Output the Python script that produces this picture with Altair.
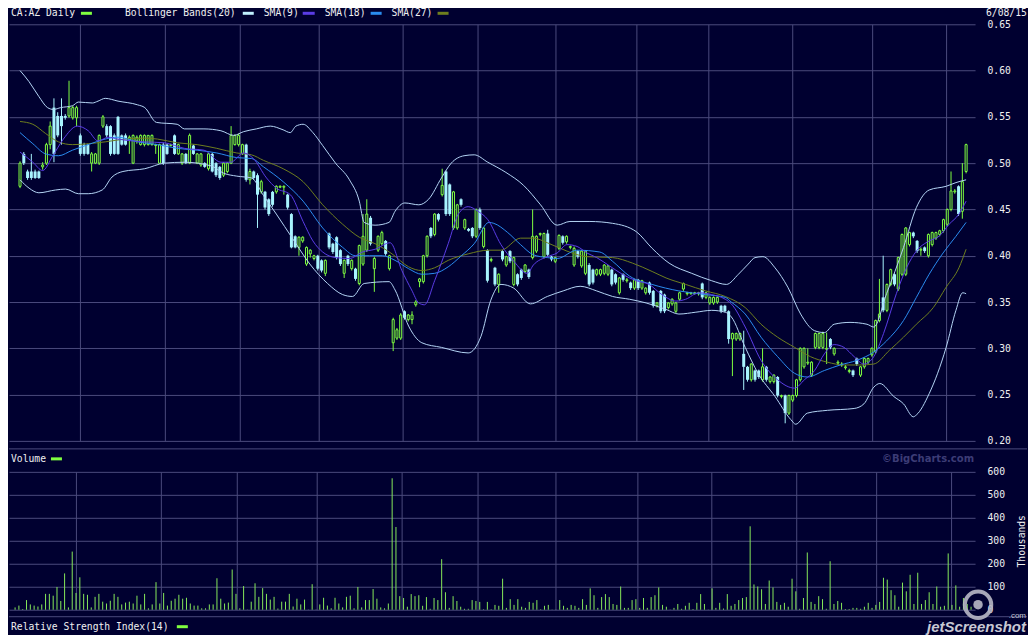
import altair as alt
import pandas as pd

# ---------------- data ----------------
OPEN = [
    .475, .510, .491, .491, .491, .491, .496, .500, .520, .560,
    .551, .551, .551, .551, .549, .549, .530, .520, .520, .500,
    .500, .500, .540, .540, .540, .530, .550, .530, .530, .525,
    .500, .524, .520, .520, .520, .520, .519, .500, .520, .520,
    .519, .530, .510, .500, .510, .500, .519, .500, .498, .500,
    .494, .510, .500, .496, .487, .491, .500, .520, .520, .510,
    .520, .482, .491, .487, .469, .469, .461, .469, .469, .474,
    .474, .466, .445, .421, .409, .416, .391, .402, .397, .400,
    .395, .381, .424, .413, .420, .406, .381, .400, .386, .386,
    .370, .391, .406, .441, .386, .406, .413, .416, .386, .306,
    .311, .311, .340, .331, .331, .347, .372, .372, .400, .430,
    .423, .445, .466, .491, .477, .430, .430, .461, .430, .429,
    .430, .421, .450, .410, .406, .395, .387, .369, .405, .390,
    .405, .369, .380, .385, .383, .385, .398, .405, .423, .399,
    .424, .399, .394, .408, .421, .415, .409, .390, .405, .389,
    .381, .390, .385, .380, .380, .381, .380, .385, .380, .360,
    .380, .373, .371, .365, .374, .365, .360, .371, .362, .346,
    .362, .358, .344, .348, .340, .353, .364, .359, .359, .359,
    .359, .370, .355, .349, .349, .350, .346, .346, .340, .310,
    .310, .310, .294, .280, .266, .276, .276, .266, .280, .264,
    .264, .269, .248, .249, .230, .244, .249, .266, .280, .284,
    .271, .301, .301, .301, .299, .310, .294, .284, .282, .279,
    .275, .276, .289, .271, .280, .285, .293, .296, .330, .355,
    .341, .369, .380, .364, .380, .380, .412, .425, .416, .406,
    .409, .400, .412, .419, .423, .427, .434, .450, .469, .475,
    .448, .491,
]
HIGH = [
    .502, .512, .493, .510, .493, .492, .501, .522, .545, .570,
    .555, .570, .553, .589, .562, .562, .532, .522, .521, .512,
    .511, .531, .552, .542, .541, .532, .551, .531, .532, .530,
    .531, .530, .531, .531, .530, .531, .521, .521, .522, .521,
    .521, .531, .521, .511, .511, .532, .520, .511, .511, .501,
    .511, .511, .501, .497, .501, .501, .540, .531, .532, .521,
    .521, .494, .492, .489, .482, .470, .462, .470, .476, .476,
    .476, .467, .446, .422, .421, .421, .410, .407, .401, .401,
    .396, .396, .425, .414, .421, .407, .396, .401, .396, .387,
    .412, .445, .461, .443, .399, .422, .427, .417, .401, .333,
    .322, .338, .341, .337, .340, .352, .376, .401, .422, .431,
    .446, .446, .494, .492, .478, .470, .456, .462, .440, .430,
    .431, .451, .452, .431, .407, .398, .388, .381, .406, .400,
    .406, .399, .381, .386, .391, .386, .450, .422, .425, .425,
    .428, .400, .399, .423, .422, .422, .411, .410, .406, .406,
    .406, .392, .386, .386, .386, .391, .390, .386, .381, .377,
    .381, .376, .372, .375, .375, .374, .366, .372, .363, .350,
    .363, .359, .350, .354, .350, .361, .371, .361, .361, .361,
    .361, .371, .361, .356, .356, .356, .347, .347, .341, .317,
    .317, .317, .319, .281, .284, .277, .277, .300, .281, .270,
    .272, .270, .250, .250, .250, .250, .267, .301, .301, .300,
    .286, .317, .317, .318, .317, .311, .301, .287, .285, .282,
    .278, .277, .290, .281, .290, .290, .301, .331, .375, .400,
    .370, .386, .381, .399, .424, .431, .426, .426, .417, .409,
    .410, .424, .426, .426, .428, .440, .451, .491, .472, .476,
    .500, .521,
]
LOW = [
    .473, .498, .482, .482, .483, .483, .493, .498, .515, .501,
    .528, .520, .547, .549, .547, .540, .508, .508, .509, .491,
    .499, .498, .538, .528, .508, .509, .509, .519, .519, .510,
    .499, .521, .519, .518, .519, .519, .510, .499, .498, .509,
    .518, .509, .509, .498, .499, .499, .509, .499, .496, .495,
    .492, .490, .485, .482, .485, .489, .499, .519, .518, .509,
    .480, .477, .482, .430, .467, .450, .443, .453, .467, .473,
    .466, .450, .408, .408, .400, .414, .389, .398, .395, .384,
    .382, .378, .407, .402, .396, .389, .376, .389, .384, .373,
    .368, .389, .404, .411, .361, .404, .411, .400, .384, .297,
    .309, .309, .331, .329, .326, .345, .366, .370, .398, .419,
    .421, .437, .464, .443, .443, .428, .428, .453, .428, .426,
    .419, .419, .428, .408, .371, .393, .367, .360, .394, .388,
    .392, .367, .367, .374, .381, .375, .396, .403, .421, .397,
    .399, .394, .392, .406, .412, .413, .407, .388, .397, .387,
    .379, .367, .369, .378, .378, .379, .378, .367, .369, .358,
    .372, .371, .363, .363, .363, .363, .358, .358, .344, .344,
    .338, .338, .342, .346, .338, .351, .362, .357, .358, .358,
    .357, .353, .353, .347, .347, .348, .338, .339, .305, .270,
    .308, .308, .255, .264, .264, .264, .267, .264, .264, .262,
    .262, .247, .246, .219, .228, .242, .247, .264, .278, .282,
    .269, .299, .299, .299, .283, .299, .292, .282, .280, .277,
    .273, .269, .281, .269, .278, .283, .291, .294, .328, .339,
    .339, .367, .367, .362, .378, .378, .410, .419, .403, .400,
    .403, .398, .410, .417, .421, .425, .432, .448, .467, .443,
    .440, .489,
]
CLOSE = [
    .500, .500, .484, .484, .484, .484, .498, .520, .540, .510,
    .530, .540, .549, .560, .560, .560, .510, .510, .510, .510,
    .510, .530, .550, .530, .510, .510, .510, .520, .520, .528,
    .530, .528, .530, .530, .530, .530, .520, .520, .500, .510,
    .520, .510, .520, .510, .500, .530, .510, .510, .510, .496,
    .510, .491, .487, .484, .500, .500, .530, .530, .530, .520,
    .482, .491, .484, .466, .480, .452, .445, .455, .475, .475,
    .475, .452, .409, .409, .420, .420, .409, .406, .400, .386,
    .384, .395, .409, .404, .398, .391, .395, .391, .395, .375,
    .411, .421, .445, .413, .397, .421, .425, .402, .400, .331,
    .320, .336, .333, .336, .336, .350, .375, .400, .421, .421,
    .445, .439, .476, .445, .445, .469, .455, .455, .439, .427,
    .421, .450, .430, .430, .373, .396, .369, .380, .396, .399,
    .394, .398, .369, .376, .390, .377, .421, .421, .424, .424,
    .401, .396, .398, .422, .414, .421, .410, .408, .399, .405,
    .405, .369, .371, .385, .385, .390, .389, .369, .371, .376,
    .374, .374, .365, .374, .365, .373, .365, .360, .346, .349,
    .340, .340, .349, .353, .349, .360, .370, .360, .360, .360,
    .360, .355, .360, .355, .355, .355, .340, .340, .310, .316,
    .316, .316, .280, .266, .283, .266, .269, .280, .266, .269,
    .271, .249, .249, .230, .249, .249, .266, .300, .300, .285,
    .285, .316, .316, .316, .300, .301, .300, .285, .283, .280,
    .276, .271, .283, .280, .289, .289, .300, .330, .337, .341,
    .369, .385, .369, .398, .423, .430, .425, .421, .405, .407,
    .405, .423, .425, .425, .427, .439, .450, .470, .470, .445,
    .480, .520,
]
# volume, thousands of shares
VOLUME = [
    10, 18, 3, 42, 23, 18, 14, 23, 69, 69,
    61, 99, 38, 158, 10, 253, 73, 141, 69, 65,
    10, 56, 69, 35, 27, 39, 69, 56, 23, 31,
    35, 27, 61, 23, 69, 6, 23, 120, 27, 73,
    18, 39, 48, 65, 48, 52, 27, 18, 18, 6,
    6, 23, 23, 137, 48, 27, 31, 175, 69, 6,
    103, 1, 35, 115, 56, 94, 69, 44, 56, 5,
    35, 35, 69, 14, 48, 23, 44, 1, 111, 1,
    23, 52, 18, 6, 52, 27, 10, 56, 61, 6,
    99, 10, 42, 42, 90, 48, 10, 6, 27, 572,
    360,
    59, 51, 13, 68, 59, 63, 17, 55, 4, 51,
    42, 220, 76, 8, 59, 38, 13, 4, 4, 42,
    38, 34, 2, 34, 2, 21, 17, 135, 8, 46,
    21, 46, 13, 8, 34, 30, 42, 2, 17, 21,
    1, 1, 42, 17, 8, 21, 17, 8, 46, 21,
    93, 63, 8, 55, 68, 55, 25, 21, 101, 8,
    8, 42, 46, 8, 51, 8, 55, 63, 97, 21,
    13, 1, 8, 25, 4, 17, 30, 3, 30, 68,
    25, 1, 93,
    8, 30, 5, 68, 17, 25, 42, 51, 55, 363,
    110, 101, 89, 25, 127, 97, 34, 21, 30, 13,
    135, 80, 4, 51, 249, 34, 25, 59, 46, 4,
    211, 25, 38, 30, 3, 3, 8, 8, 4, 13,
    30, 8, 21, 34, 139, 131, 85, 63, 13, 118,
    80, 152, 25, 161, 25, 42, 76, 25, 101, 13,
    17, 245, 21, 106, 13, 51, 25, 13,
]
# (trading-day index, value) pairs
UPPER_BAND = [(0, .600), (2.4, .588), (5, .572), (7.3, .560), (8.9, .558), (10.8, .560), (13.9, .562),
              (15.5, .566), (19.2, .565), (20.7, .567), (22.6, .570), (26, .567), (31.2, .563), (33.1, .560),
              (36.2, .544), (41.7, .542), (43.6, .537), (48.8, .537), (53.3, .535), (56.7, .530), (59.3, .534),
              (62.7, .537), (66.4, .540), (69.8, .536), (71.7, .533), (73.2, .540), (75.1, .542), (77.7, .533),
              (80.3, .519), (83.7, .500), (87.4, .482), (90, .459), (91.3, .436), (94.2, .433), (97.9, .436),
              (99.5, .448), (102.1, .457), (105.8, .455), (108.4, .461), (111.8, .484), (114.4, .500),
              (117.8, .508), (120.5, .509), (124.1, .501), (128.9, .490), (133.6, .476), (138.1, .455),
              (142.5, .433), (145.9, .437), (151.2, .437), (157.2, .435), (163.5, .426), (167.7, .408),
              (172.2, .392), (178.2, .381), (183.5, .373), (187.4, .369), (190.6, .380), (193.2, .391),
              (195, .398), (197.1, .399), (200.3, .387), (203.7, .366), (207.1, .337), (210.8, .319),
              (213.4, .317), (216, .326), (220.2, .328), (224.7, .326), (226.5, .323), (229.9, .359),
              (234.4, .409), (237.8, .452), (241.2, .471), (245.7, .475), (248.3, .479), (251, .482)]
LOWER_BAND = [(0, .482), (2.4, .473), (5, .468), (9.4, .471), (12.1, .472), (15.5, .467), (18.1, .467),
              (21.8, .471), (24.4, .485), (27.3, .491), (33.1, .494), (38.3, .500), (43.6, .501), (50.7, .497),
              (54.1, .489), (57.5, .486), (61.4, .484), (64.6, .465), (68, .445), (72.4, .418), (76.9, .391),
              (81.6, .370), (85.6, .358), (88.2, .356), (91.3, .370), (97.9, .372), (99.5, .363), (103.1, .324),
              (106.6, .306), (111.8, .301), (118.9, .295), (122.3, .313), (124.9, .352), (127.6, .369),
              (131, .365), (135.4, .348), (139.9, .356), (144.1, .362), (148.6, .367), (153, .362),
              (157.2, .356), (161.7, .353), (166.1, .349), (171.4, .342), (174.8, .337), (179.3, .339),
              (183.5, .341), (187.1, .339), (188.7, .334), (192.4, .301), (195.8, .273), (200.3, .248),
              (204.5, .223), (205.8, .218), (208.9, .230), (214.2, .233), (221.3, .235), (223.9, .240),
              (226.5, .258), (228.1, .262), (231.8, .248), (234.4, .240), (237, .226), (237.8, .228),
              (241.2, .251), (245.7, .301), (248.3, .341), (250.1, .360), (251, .359)]
SMA9 = [(0, .512), (3.4, .501), (6, .492), (8.7, .508), (11.5, .526), (15.2, .540), (18.1, .535), (20.7, .524),
        (23.4, .528), (26, .526), (29.7, .524), (33.1, .523), (38.3, .522), (43.6, .516), (48.8, .514),
        (53.3, .501), (55.9, .501), (59.3, .511), (61.9, .505), (65.4, .484), (68, .473), (71.7, .466),
        (75.1, .437), (77.7, .416), (80.3, .404), (83.7, .398), (87.4, .397), (90.8, .404), (94.2, .407),
        (98.2, .414), (101.3, .384), (103.9, .363), (105.8, .349), (107.3, .347), (110, .373), (113.6, .413),
        (116.3, .445), (118.9, .453), (121.5, .448), (124.1, .439), (127.6, .412), (131, .394), (134.6, .381),
        (136.2, .390), (139.9, .399), (142.5, .403), (145.1, .412), (147.8, .410), (150.4, .403), (153, .398),
        (156.4, .389), (159.8, .380), (163.5, .373), (166.9, .369), (170.3, .358), (174, .351), (176.6, .353),
        (180.1, .360), (183.5, .358), (187.1, .353), (188.7, .348), (192.4, .323), (196.6, .287), (201, .266),
        (205.5, .257), (208.1, .266), (210.8, .276), (213.4, .294), (216, .304), (218.6, .301), (221.3, .291),
        (223.9, .283), (226.5, .291), (229.1, .316), (232.5, .359), (235.2, .387), (237.8, .405),
        (241.2, .416), (243.8, .421), (246.5, .434), (249.1, .445), (251, .459)]
SMA18 = [(0, .533), (3.4, .521), (6.8, .510), (10.2, .508), (13.9, .514), (18.1, .520), (22.6, .526),
         (26, .528), (31.2, .523), (36.5, .520), (41.7, .516), (47, .514), (52.2, .511), (57.5, .506),
         (61.4, .505), (64.6, .496), (69.8, .480), (75.1, .459), (80.3, .430), (85.6, .409), (89, .400),
         (92.7, .400), (96.1, .400), (99.5, .395), (103.1, .386), (106.6, .380), (110, .381), (113.6, .388),
         (117.1, .400), (120.5, .413), (124.4, .436), (125.7, .435), (129.4, .425), (132.8, .412),
         (136.2, .401), (139.9, .398), (142.5, .397), (147.8, .406), (153.8, .404), (157.2, .394),
         (161.7, .378), (167.7, .369), (174.8, .362), (181.9, .358), (187.1, .355), (188.7, .350),
         (192.4, .337), (196.6, .312), (201, .291), (205.5, .273), (208.9, .269), (213.4, .276),
         (217.6, .282), (222, .287), (226.5, .296), (229.9, .308), (234.4, .330), (237.8, .355),
         (241.2, .380), (244.9, .403), (248.3, .421), (251, .436)]
SMA27 = [(0, .545), (3.4, .542), (6.8, .532), (10.2, .523), (13.9, .520), (18.1, .521), (22.6, .523),
         (27.8, .526), (33.1, .527), (36.5, .526), (41.7, .522), (47, .520), (52.2, .516), (57.5, .511),
         (61.4, .509), (64.6, .503), (69.8, .494), (75.1, .480), (80.3, .455), (85.6, .434), (90, .420),
         (94.2, .413), (98.7, .402), (103.1, .388), (106.6, .384), (110, .387), (113.6, .395), (118.9, .402),
         (124.4, .406), (127.6, .406), (132.8, .419), (136.2, .419), (139.9, .414), (145.1, .405),
         (150.4, .399), (157.2, .398), (162.5, .392), (167.7, .383), (171.4, .376), (176.6, .369),
         (181.9, .362), (187.1, .356), (192.4, .344), (196.6, .326), (201, .312), (205.5, .301),
         (209.7, .291), (214.2, .285), (218.6, .282), (222.8, .282), (226.5, .283), (230.7, .298),
         (234.4, .312), (237.8, .326), (242.3, .344), (245.7, .366), (249.1, .387), (251, .407)]
# month boundaries (trading-day index) used for the vertical grid
MONTH_TICKS = [16.0, 38.3, 58.3, 79.3, 101.6, 121.5, 142.0, 163.5, 182.7, 205.0, 226.0, 245.7]
PRICE_TICKS = [0.20, 0.25, 0.30, 0.35, 0.40, 0.45, 0.50, 0.55, 0.60, 0.65]
VOL_TICKS = [0, 100, 200, 300, 400, 500, 600]
LEGEND_LABELS = ["CA:AZ Daily", "Bollinger Bands(20)", "SMA(9)", "SMA(18)", "SMA(27)"]
DATE_LABEL = "6/08/15"

# ---------------- styling ----------------
BG = "#000030"
GRID = "#4a4a7c"
TXT = "#f0f0f0"
GREEN = "#80ff40"
CYAN = "#a8f4ff"
BAND = "#b4d4f4"
C9 = "#5a3ce6"
C18 = "#2a8cf0"
C27 = "#6e7e1e"
VOLC = "#86e85a"
MONO = "DejaVu Sans Mono"
FS = 9.7
W, HP, HV = 967, 417, 138
TOP_Y = -11

n = len(CLOSE)
bars = pd.DataFrame({"i": list(range(n)), "open": OPEN, "high": HIGH, "low": LOW,
                     "close": CLOSE, "volume": VOLUME[:n]})
bars["dir"] = ["up" if c >= o else "down" for o, c in zip(OPEN, CLOSE)]
bars["zero"] = 0

XS = alt.Scale(domain=[-1.6, 252.05], nice=False, zero=False)
YP = alt.Scale(domain=[0.20, 0.65], nice=False, zero=False)
YV = alt.Scale(domain=[0, 600], nice=False)

AX_X = alt.Axis(values=MONTH_TICKS, labels=False, ticks=False, domain=False, grid=True, title=None)
AX_YP = alt.Axis(orient="right", values=PRICE_TICKS, format=".2f", grid=True, labelPadding=12, title=None)
AX_YV = alt.Axis(orient="right", values=VOL_TICKS, grid=True, labelPadding=12, title="Thousands",
                 titleAngle=270, titleX=46, titleY=HV / 2, titleBaseline="middle", titleAlign="center")


def px(field="i"):
    return alt.X(f"{field}:Q", scale=XS, axis=AX_X)


def py(field):
    return alt.Y(f"{field}:Q", scale=YP, axis=AX_YP)


def text_mark(txt, x, y, align="left", color=TXT, font=MONO, size=FS, weight="normal", style="normal"):
    return alt.Chart(pd.DataFrame({"t": [txt]})).mark_text(
        align=align, baseline="middle", color=color, font=font, fontSize=size,
        fontWeight=weight, fontStyle=style).encode(x=alt.value(x), y=alt.value(y), text="t:N")


def dash(x1, x2, y, color, width=3):
    return alt.Chart(pd.DataFrame({"a": [0]})).mark_rule(color=color, strokeWidth=width).encode(
        x=alt.value(x1), x2=alt.value(x2), y=alt.value(y))


def overlay(points, color):
    d = pd.DataFrame(points, columns=["i", "v"])
    return alt.Chart(d).mark_line(color=color, strokeWidth=1, interpolate="monotone").encode(
        x=px(), y=py("v"))


base = alt.Chart(bars)
wicks = base.mark_rule(strokeWidth=1).encode(
    x=px(), y=py("low"), y2="high:Q",
    color=alt.Color("dir:N", scale=alt.Scale(domain=["up", "down"], range=[GREEN, CYAN]), legend=None),
)
up_body = base.transform_filter(alt.datum.dir == "up").mark_bar(
    size=2, fill=BG, stroke=GREEN, strokeWidth=1).encode(x=px(), y=py("open"), y2="close:Q")
down_body = base.transform_filter(alt.datum.dir == "down").mark_bar(
    size=3, color=CYAN).encode(x=px(), y=py("close"), y2="open:Q")

legend_x = [2, 116, 255, 316, 383]
dash_x = [(72, 83, GREEN), (234, 245, "#c0f0ff"), (294, 306, C9), (362, 373, C18), (429, 440, C27)]
price_layers = [wicks, up_body, down_body,
                overlay(UPPER_BAND, BAND), overlay(LOWER_BAND, BAND),
                overlay(SMA27, C27), overlay(SMA18, C18), overlay(SMA9, C9)]
for lbl, lx in zip(LEGEND_LABELS, legend_x):
    price_layers.append(text_mark(lbl, lx, TOP_Y))
for x1, x2, c in dash_x:
    price_layers.append(dash(x1, x2, TOP_Y, c))
price_layers.append(text_mark(DATE_LABEL, 978, TOP_Y))
price = alt.layer(*price_layers).properties(width=W, height=HP)

vol_bars = base.mark_rule(color=VOLC, strokeWidth=1).encode(
    x=px(),
    y=alt.Y("volume:Q", scale=YV, axis=AX_YV),
    y2="zero:Q",
)
vol_layers = [
    vol_bars,
    dash(0, 1019, -23, GRID, 1),
    text_mark("Volume", 2, -13),
    dash(42, 53, -13, GREEN),
    text_mark("\u00a9BigCharts.com", 966, -13, align="right", color="#3c3c76",
              font="DejaVu Sans", size=10, weight="bold"),
    dash(0, 1019, 145, GRID, 1),
    text_mark("Relative Strength Index(14)", 2, 155),
    dash(168, 179, 155, GREEN),
    alt.Chart(pd.DataFrame({"a": [0]})).mark_point(
        shape="circle", size=700, stroke="#b8b8c6", strokeWidth=4, filled=False, opacity=0.9).encode(
        x=alt.value(970), y=alt.value(133)),
    alt.Chart(pd.DataFrame({"a": [0]})).mark_point(
        shape="circle", size=90, color="#b8b8c6", filled=True, opacity=0.9).encode(
        x=alt.value(970), y=alt.value(133)),
    text_mark(".com", 1018, 144, align="right", color="#c8c8d4", font="Liberation Sans", size=8),
    text_mark("jetScreenshot", 1018, 155, align="right", color="#c8c8d4",
              font="Liberation Sans", size=15, weight="bold", style="italic"),
]
volume = alt.layer(*vol_layers).properties(width=W, height=HV)

chart = alt.vconcat(price, volume, spacing=31, bounds="flush").properties(
    padding=0, background=BG
).configure_view(stroke=None).configure_axis(
    labelFont=MONO, labelFontSize=FS, labelColor=TXT,
    titleFont=MONO, titleFontSize=FS, titleColor=TXT, titleFontWeight="normal",
    gridColor=GRID, gridOpacity=1, gridWidth=1, domain=False, ticks=False,
)

chart.save("out.html", embed_options={"renderer": "svg", "actions": False})
